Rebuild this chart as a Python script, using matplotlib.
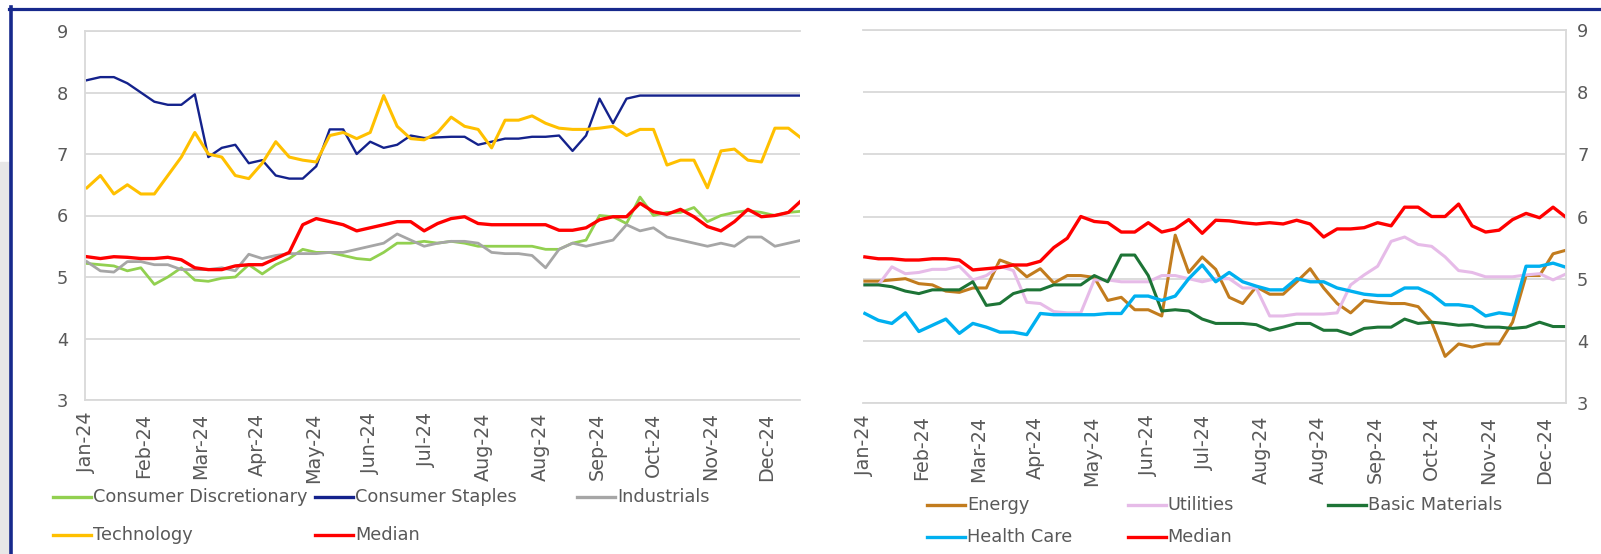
import matplotlib
matplotlib.use("Agg")
import matplotlib.pyplot as plt
from matplotlib.lines import Line2D
from matplotlib.patches import Rectangle
import numpy as np

# weekly readings (every 5 trading days), left panel has one extra end point
cons_disc = [5.22, 5.2, 5.18, 5.1, 5.15, 4.88, 5.0, 5.15, 4.95, 4.93, 4.98, 5.0, 5.2, 5.05, 5.2, 5.3,
             5.45, 5.4, 5.4, 5.35, 5.3, 5.28, 5.4, 5.55, 5.55, 5.58, 5.55, 5.58, 5.55, 5.5, 5.5, 5.5,
             5.5, 5.5, 5.45, 5.45, 5.55, 5.6, 6.0, 5.98, 5.87, 6.3, 6.0, 6.05, 6.05, 6.13, 5.9, 6.0,
             6.05, 6.08, 6.05, 6.0, 6.05, 6.07]
cons_staples = [8.2, 8.25, 8.25, 8.15, 8.0, 7.85, 7.8, 7.8, 7.97, 6.95, 7.1, 7.15, 6.85, 6.9, 6.65, 6.6,
                6.6, 6.8, 7.4, 7.4, 7.0, 7.2, 7.1, 7.15, 7.3, 7.26, 7.27, 7.28, 7.28, 7.15, 7.2, 7.25,
                7.25, 7.28, 7.28, 7.3, 7.05, 7.3, 7.9, 7.5, 7.9, 7.95, 7.95, 7.95, 7.95, 7.95, 7.95,
                7.95, 7.95, 7.95, 7.95, 7.95, 7.95, 7.95]
industrials = [5.25, 5.1, 5.08, 5.25, 5.25, 5.2, 5.2, 5.12, 5.12, 5.12, 5.15, 5.1, 5.37, 5.3, 5.35, 5.38,
               5.38, 5.38, 5.4, 5.4, 5.45, 5.5, 5.55, 5.7, 5.6, 5.5, 5.55, 5.58, 5.58, 5.55, 5.4, 5.38,
               5.38, 5.35, 5.15, 5.45, 5.55, 5.5, 5.55, 5.6, 5.85, 5.75, 5.8, 5.65, 5.6, 5.55, 5.5, 5.55,
               5.5, 5.65, 5.65, 5.5, 5.55, 5.6]
technology = [6.45, 6.65, 6.35, 6.5, 6.35, 6.35, 6.65, 6.95, 7.35, 7.0, 6.95, 6.65, 6.6, 6.85, 7.2, 6.95,
              6.9, 6.87, 7.3, 7.35, 7.25, 7.35, 7.95, 7.45, 7.25, 7.23, 7.35, 7.6, 7.45, 7.4, 7.1, 7.55,
              7.55, 7.62, 7.5, 7.42, 7.4, 7.4, 7.42, 7.45, 7.3, 7.4, 7.4, 6.82, 6.9, 6.9, 6.45, 7.05,
              7.08, 6.9, 6.87, 7.42, 7.42, 7.25]
median_left = [5.33, 5.3, 5.33, 5.32, 5.3, 5.3, 5.32, 5.28, 5.15, 5.12, 5.12, 5.18, 5.2, 5.2, 5.3, 5.4,
               5.85, 5.95, 5.9, 5.85, 5.75, 5.8, 5.85, 5.9, 5.9, 5.75, 5.87, 5.95, 5.98, 5.87, 5.85, 5.85,
               5.85, 5.85, 5.85, 5.76, 5.76, 5.8, 5.93, 5.98, 5.98, 6.2, 6.06, 6.02, 6.1, 5.98, 5.82, 5.75,
               5.9, 6.1, 5.98, 6.0, 6.05, 6.25]

energy = [4.96, 4.96, 4.98, 5.0, 4.92, 4.9, 4.8, 4.78, 4.85, 4.85, 5.3, 5.22, 5.03, 5.16, 4.93, 5.05,
          5.05, 5.02, 4.65, 4.7, 4.5, 4.5, 4.4, 5.7, 5.1, 5.35, 5.15, 4.7, 4.6, 4.87, 4.75, 4.75,
          4.95, 5.16, 4.85, 4.6, 4.45, 4.65, 4.62, 4.6, 4.6, 4.55, 4.3, 3.75, 3.95, 3.9, 3.95, 3.95,
          4.3, 5.05, 5.05, 5.4, 5.46]
utilities = [4.9, 4.9, 5.19, 5.08, 5.1, 5.15, 5.15, 5.2, 4.98, 5.05, 5.2, 5.13, 4.62, 4.6, 4.47, 4.45,
             4.45, 4.98, 4.98, 4.95, 4.95, 4.95, 5.05, 5.05, 5.0, 4.95, 5.0, 5.0, 4.85, 4.85, 4.4, 4.4,
             4.43, 4.43, 4.43, 4.45, 4.9, 5.06, 5.2, 5.6, 5.67, 5.55, 5.52, 5.35, 5.13, 5.1, 5.03, 5.03,
             5.03, 5.06, 5.08, 4.98, 5.08]
basic_materials = [4.9, 4.9, 4.87, 4.8, 4.76, 4.82, 4.82, 4.82, 4.95, 4.57, 4.6, 4.76, 4.82, 4.82, 4.9, 4.9,
                   4.9, 5.05, 4.95, 5.38, 5.38, 5.05, 4.48, 4.5, 4.48, 4.35, 4.28, 4.28, 4.28, 4.26, 4.17,
                   4.22, 4.28, 4.28, 4.17, 4.17, 4.1, 4.2, 4.22, 4.22, 4.35, 4.28, 4.3, 4.28, 4.25, 4.26,
                   4.22, 4.22, 4.2, 4.22, 4.3, 4.23, 4.23]
health_care = [4.44, 4.33, 4.28, 4.45, 4.15, 4.25, 4.35, 4.12, 4.28, 4.22, 4.14, 4.14, 4.1, 4.44, 4.42, 4.42,
               4.42, 4.42, 4.44, 4.44, 4.72, 4.72, 4.65, 4.72, 5.0, 5.22, 4.95, 5.1, 4.95, 4.88, 4.82, 4.82,
               5.0, 4.95, 4.95, 4.85, 4.8, 4.75, 4.73, 4.73, 4.85, 4.85, 4.75, 4.58, 4.58, 4.55, 4.4, 4.45,
               4.42, 5.2, 5.2, 5.25, 5.18]
median_right = [5.35, 5.32, 5.32, 5.3, 5.3, 5.32, 5.32, 5.3, 5.14, 5.16, 5.18, 5.22, 5.22, 5.28, 5.5, 5.65,
                6.0, 5.92, 5.9, 5.75, 5.75, 5.9, 5.75, 5.8, 5.95, 5.73, 5.94, 5.93, 5.9, 5.88, 5.9, 5.88,
                5.94, 5.88, 5.67, 5.8, 5.8, 5.82, 5.9, 5.85, 6.15, 6.15, 6.0, 6.0, 6.2, 5.85, 5.75, 5.78,
                5.95, 6.05, 5.98, 6.15, 5.98]

tick_labels = ["Jan-24", "Feb-24", "Mar-24", "Apr-24", "May-24", "Jun-24", "Jul-24",
               "Aug-24", "Aug-24", "Sep-24", "Oct-24", "Nov-24", "Dec-24"]

W, H = 1601, 554
TEXT = "#595959"
GRID = "#D9D9D9"
NAVY = "#17298C"
FS = 12.8

plt.rcParams["font.family"] = ["DejaVu Sans"]

fig = plt.figure(figsize=(W / 100, H / 100), dpi=100)


def fx(px):
    return px / W


def fy(py):
    return 1 - py / H


# page background bits: grey strip and navy frame
fig.patches.append(Rectangle((0, 0), fx(9), fy(162), color="#E7E7E7",
                             transform=fig.transFigure, zorder=0))
fig.add_artist(Line2D([fx(10.5), fx(10.5)], [0, fy(7)], color=NAVY, lw=2.6,
                      transform=fig.transFigure))
fig.add_artist(Line2D([fx(9), 1], [fy(8.5), fy(8.5)], color=NAVY, lw=2.3,
                      transform=fig.transFigure))


def setup_axes(ax, side, xmax):
    ax.set_ylim(3, 9)
    ax.set_xlim(-0.7, xmax)
    ax.set_yticks(range(3, 10))
    ax.set_xticks(np.arange(len(tick_labels)) * 21)
    ax.set_xticklabels(tick_labels, rotation=90)
    ax.grid(axis="y", color=GRID, lw=1.3)
    ax.set_axisbelow(True)
    for s in ax.spines.values():
        s.set_color(GRID)
        s.set_linewidth(1.3)
    if side == "left":
        ax.spines["right"].set_visible(False)
        ax.tick_params(axis="y", pad=12)
    else:
        ax.spines["left"].set_visible(False)
        ax.yaxis.tick_right()
        ax.tick_params(axis="y", pad=8)
    ax.tick_params(axis="both", length=0, labelsize=FS, labelcolor=TEXT)
    ax.tick_params(axis="x", pad=9, labelsize=13.8)


def draw_legend(entries, x0, step, rows_y, handle=38):
    # Excel style legend: equal-width columns, 3 per row
    for i, (label, color) in enumerate(entries):
        col, row = i % 3, i // 3
        x = x0 + col * step
        y = rows_y[row]
        fig.add_artist(Line2D([fx(x), fx(x + handle)], [fy(y), fy(y)], color=color, lw=2.4,
                              transform=fig.transFigure))
        fig.text(fx(x + handle + 2), fy(y), label, fontsize=FS, color=TEXT,
                 va="center", ha="left")


left_series = [("Consumer Discretionary", cons_disc, "#92D050", 2.0),
               ("Consumer Staples", cons_staples, "#14228C", 1.7),
               ("Industrials", industrials, "#A6A6A6", 2.0),
               ("Technology", technology, "#FFC000", 2.2),
               ("Median", median_left, "#FF0000", 2.4)]
right_series = [("Energy", energy, "#C27C1E", 2.2),
                ("Utilities", utilities, "#E6BBE8", 2.2),
                ("Basic Materials", basic_materials, "#1D7436", 2.2),
                ("Health Care", health_care, "#00B0F0", 2.4),
                ("Median", median_right, "#FF0000", 2.4)]

ax1 = fig.add_axes([fx(85), fy(400), fx(800) - fx(85), fy(31) - fy(400)])
setup_axes(ax1, "left", 264.3)
for name, vals, color, lw in left_series:
    x = np.arange(len(vals)) * 5
    ax1.plot(x, vals, color=color, lw=lw, label=name)

ax2 = fig.add_axes([fx(863), fy(403), fx(1566) - fx(863), fy(30) - fy(403)])
setup_axes(ax2, "right", 259.8)
for name, vals, color, lw in right_series:
    x = np.arange(len(vals)) * 5
    ax2.plot(x, vals, color=color, lw=lw, label=name)

draw_legend([(n, c) for n, v, c, lw in left_series], 53, 262, [497, 535])
draw_legend([(n, c) for n, v, c, lw in right_series], 927, 200.5, [505, 537])

fig.savefig("out.png", dpi=100)
